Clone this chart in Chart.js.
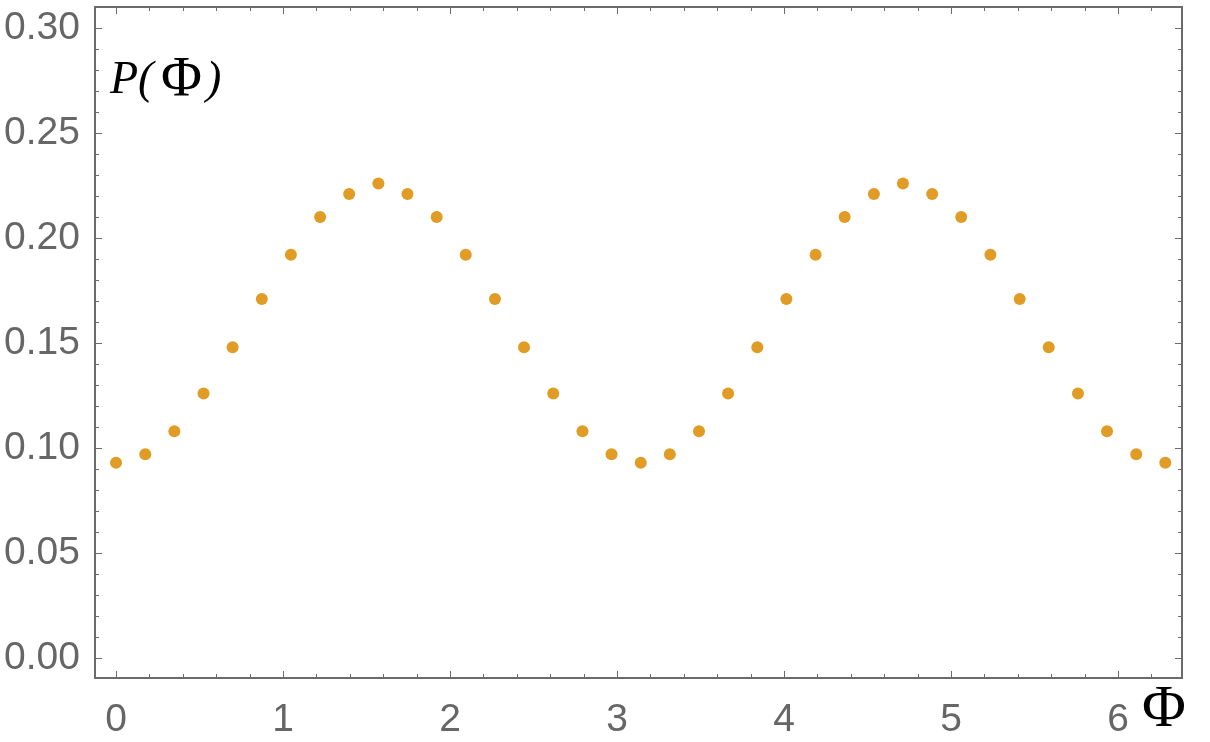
<!DOCTYPE html>
<html>
<head>
<meta charset="utf-8">
<script src="https://cdn.jsdelivr.net/npm/chart.js@4/dist/chart.umd.min.js"></script>
<style>
  html, body { margin: 0; padding: 0; background: #fff; }
  #wrap { width: 1210px; height: 742px; }
</style>
</head>
<body>
<div id="wrap"><canvas id="myChart" width="1210" height="742"></canvas></div>
<script>
// sample angles (Phi) and the probability
const phiValues = [0, 0.175, 0.349, 0.524, 0.698, 0.873, 1.047, 1.222, 1.396, 1.571,
    1.745, 1.920, 2.094, 2.269, 2.443, 2.618, 2.793, 2.967, 3.142, 3.316,
    3.491, 3.665, 3.840, 4.014, 4.189, 4.363, 4.538, 4.712, 4.887, 5.061,
    5.236, 5.411, 5.585, 5.760, 5.934, 6.109, 6.283];
const probValues = [0.093, 0.097, 0.108, 0.126, 0.148, 0.171, 0.192, 0.210, 0.221, 0.226,
    0.221, 0.210, 0.192, 0.171, 0.148, 0.126, 0.108, 0.097, 0.093, 0.097,
    0.108, 0.126, 0.148, 0.171, 0.192, 0.210, 0.221, 0.226, 0.221, 0.210,
    0.192, 0.171, 0.148, 0.126, 0.108, 0.097, 0.093];
const xTicks = [0, 1, 2, 3, 4, 5, 6];
const yTicks = [0, 0.05, 0.10, 0.15, 0.20, 0.25, 0.30];

const frameColor = '#6b6b6b';
const labelColor = '#666666';

let points = phiValues.map(function (x, i) {
    return { x: x, y: probValues[i] };
});

// frame, inward ticks and axis labels, Mathematica style
const framePlugin = {
    id: 'frame',
    afterDraw: function (chart) {
        let ctx = chart.ctx;
        let area = chart.chartArea;
        let xs = chart.scales.x;
        let ys = chart.scales.y;
        ctx.save();
        ctx.strokeStyle = frameColor;
        ctx.lineWidth = 2;
        ctx.strokeRect(area.left, area.top, area.right - area.left, area.bottom - area.top);

        ctx.lineWidth = 1;
        ctx.beginPath();
        for (let v = 0; v <= 6.3; v += 0.2) {
            let major = Math.abs(v - Math.round(v)) < 1e-6;
            let len = major ? 7 : 4;
            let px = Math.round(xs.getPixelForValue(v)) + 0.5;
            ctx.moveTo(px, area.bottom); ctx.lineTo(px, area.bottom - len);
            ctx.moveTo(px, area.top); ctx.lineTo(px, area.top + len);
        }
        for (let k = 0; k <= 31; k++) {
            let v = k / 100;
            let len = (k % 5 === 0) ? 7 : 4;
            let py = Math.round(ys.getPixelForValue(v)) + 0.5;
            ctx.moveTo(area.left, py); ctx.lineTo(area.left + len, py);
            ctx.moveTo(area.right, py); ctx.lineTo(area.right - len, py);
        }
        ctx.stroke();

        // axis labels
        ctx.fillStyle = '#000';
        ctx.textBaseline = 'alphabetic';
        ctx.textAlign = 'left';
        ctx.font = 'italic 46px "Liberation Serif"';
        ctx.fillText('P(', 110, 93);
        ctx.font = '56px "Liberation Serif"';
        ctx.fillText('\u03A6', 161, 96);
        ctx.font = 'italic 46px "Liberation Serif"';
        ctx.fillText(')', 206, 93);

        ctx.font = '60px "Liberation Serif"';
        ctx.textAlign = 'center';
        ctx.fillText('\u03A6', 1164, 726);
        ctx.restore();
    }
};

let myChart = new Chart(document.getElementById('myChart').getContext('2d'), {
    type: 'scatter',
    data: {
        datasets: [{
            label: 'P(Phi)',
            data: points,
            backgroundColor: 'rgb(224, 156, 36)',
            borderWidth: 0,
            pointRadius: 6,
            pointHoverRadius: 6
        }]
    },
    options: {
        responsive: false,
        animation: false,
        layout: { padding: { top: 7, right: 28, left: 0, bottom: 0 } },
        plugins: {
            legend: { display: false },
            tooltip: { enabled: false }
        },
        scales: {
            x: {
                type: 'linear',
                min: -0.126,
                max: 6.383,
                afterBuildTicks: function (scale) {
                    scale.ticks = xTicks.map(function (v) { return { value: v }; });
                },
                afterFit: function (scale) {
                    scale.height = 64;
                    scale.paddingLeft = 0;
                    scale.paddingRight = 0;
                },
                grid: { display: false, drawTicks: false },
                border: { display: false },
                ticks: {
                    padding: 19,
                    color: labelColor,
                    font: { family: '"Liberation Sans", Arial', size: 39 },
                    maxRotation: 0,
                    autoSkip: false,
                    callback: function (v) { return String(v); }
                }
            },
            y: {
                type: 'linear',
                min: -0.0095,
                max: 0.310,
                afterBuildTicks: function (scale) {
                    scale.ticks = yTicks.map(function (v) { return { value: v }; });
                },
                afterFit: function (scale) {
                    scale.width = 95;
                    scale.paddingTop = 0;
                    scale.paddingBottom = 0;
                },
                grid: { display: false, drawTicks: false },
                border: { display: false },
                ticks: {
                    padding: 15,
                    color: labelColor,
                    font: { family: '"Liberation Sans", Arial', size: 39 },
                    autoSkip: false,
                    callback: function (v) { return v.toFixed(2); }
                }
            }
        }
    },
    plugins: [framePlugin]
});
</script>
</body>
</html>
